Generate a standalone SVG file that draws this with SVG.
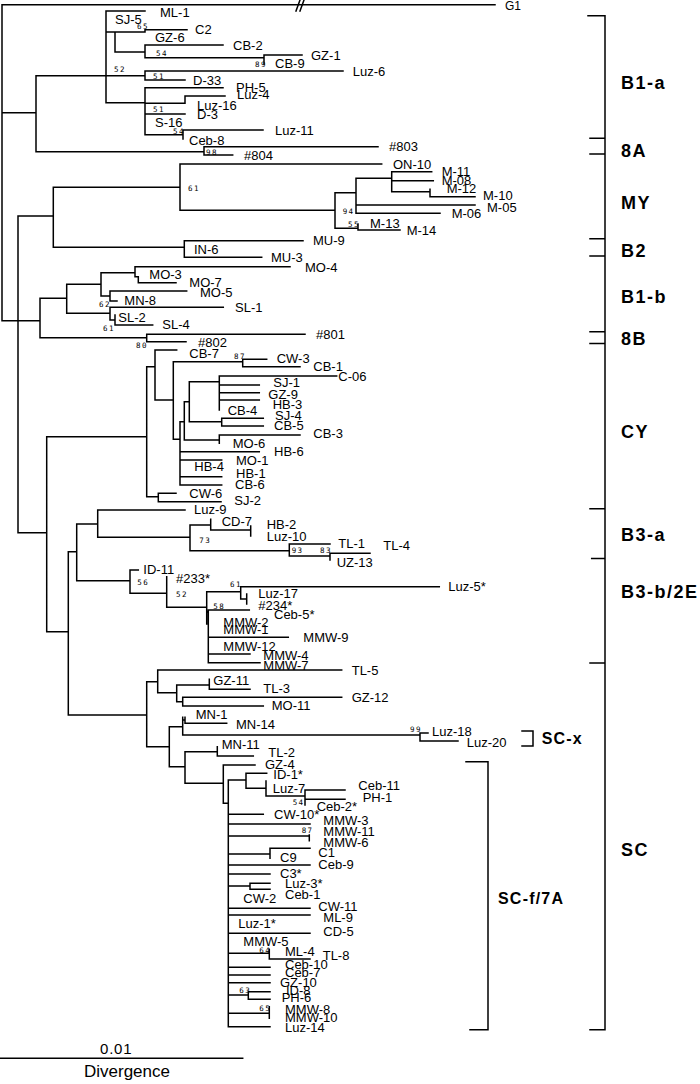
<svg xmlns="http://www.w3.org/2000/svg" width="700" height="1084" viewBox="0 0 700 1084">
<style>
.br{fill:none;stroke:#000;stroke-width:1.5;stroke-linecap:square}
.lf{font-family:"Liberation Sans",Arial,sans-serif;font-size:13px;fill:#000}
.bs{font-family:"DejaVu Sans Mono","Liberation Mono",monospace;font-size:7.5px;letter-spacing:1.4px;fill:#000}
.cl{font-family:"Liberation Sans",Arial,sans-serif;font-size:18px;font-weight:bold;letter-spacing:1.5px;fill:#000}
.cs{font-family:"Liberation Sans",Arial,sans-serif;font-size:16px;font-weight:bold;letter-spacing:1.2px;fill:#000}
</style>
<rect width="700" height="1084" fill="#fff"/>
<g id="connectors">
<path class="br" d="M2 4.7V320.7M2 4.7H495M2 112.7H36M2 320.7H40
M36 75.7V151.7M36 75.7H145M106 11V102.7M106 11H145M106 32H115M115 32V52M115 32H145M145 29.7V32M145 29.7H187
M115 52H145M145 45V57.7M145 45H223M145 57.7H264M264 55V64M264 55H302
M145 71V80M145 71H343M145 80H185
M106 102.7H145M145 87.7V134.7M145 87.7H223M145 103.3H185M185 96V103.3M185 96H225M145 114H185M145 134.7H183M183 130V139M183 130H263
M36 151.7H204M204 146.7V155M204 146.7H378M204 155H232.7
M18 216V532.7M18 216H53.3M53.3 187.3V247.3M53.3 187.3H180M180 164V210.3M180 164H381.7M180 210.3H335M335 192.7V228.3
M335 192.7H356M356 178.3V213.3M356 178.3H391.7M391.7 171.7V191.7M391.7 171.7H431.7M391.7 180.7H433.3M391.7 191.7H430M430 189.3V196.7M430 196.7H475
M356 205H475M356 213.3H440M335 228.3H358M358 224V230M358 230H400
M53.3 247.3H184.3M184.3 240.7V257.3M184.3 240.7H303M184.3 257.3H261.7
M40 298.3V337.7M40 298.3H66.7M66.7 284.3V313.3M66.7 284.3H101M101 272.7V296M101 272.7H135M135 266.7V276.7M135 266.7H290M135 276.7H138.3M138.3 276.7V282.7M138.3 282.7H176
M101 296H110M110 291V301M110 291H186.7M110 301H117
M66.7 313.3H110M110 307.3V320M110 307.3H223.3M110 320H115M115 315V325M115 325H152.7
M40 337.7H146.7M146.7 334.3V341.7M146.7 334.3H305M146.7 341.7H186
M18 532.7H46.7M46.7 436.7V631.7M46.7 436.7H146.7M146.7 366.7V496.7
M146.7 366.7H155M155 350V400M155 350H176.7M155 400H173.3M173.3 361.7V439.3
M173.3 361.7H242.7M242.7 359.3V366.7M242.7 359.3H266.7M242.7 366.7H300
M173.3 439.3H180M180 421.7V485M180 421.7H184.3M184.3 401.7V440M184.3 401.7H189.3M189.3 381.7V421.7
M189.3 381.7H219.3M219.3 376V410M219.3 376H336.7M219.3 385H259.3M219.3 392.7H259.3M219.3 400H259.3
M189.3 421.7H221.7M221.7 418.3V426M221.7 418.3H263.3M221.7 426H263.3
M184.3 440H219.3M219.3 435V443.3M219.3 435H300
M180 451.7H259.3M180 460H221.7M180 476.7H221.7M180 485H221.7
M146.7 496.7H158.3M158.3 493.3V501.7M158.3 493.3H176M158.3 501.7H221
M46.7 631.7H68.3M68.3 551.7V715M68.3 551.7H76.7M76.7 524V580.7
M76.7 524H97.7M97.7 510V537.3M97.7 510H185M97.7 537.3H190M190 525V550.7
M190 525H210.7M210.7 519.3V530M210.7 530H250.7M250.7 526V536
M190 550.7H289.3M289.3 544V556M289.3 544H330M289.3 556H330M330 553.3V560M330 553.3H370
M76.7 580.7H130M130 570V593.3M130 570H138.3M130 593.3H166.7M166.7 576.7V607.3M166.7 607.3H206.7M206.7 591.7V624
M206.7 591.7H240.7M240.7 586.7V599M240.7 586.7H439.3M240.7 599H246.7M246.7 594V604
M206.7 612H208.3M208.3 610V662.7M208.3 610H249.3M208.3 637.3H288.3M208.3 654H250M208.3 662.7H260
M68.3 715H146.7M146.7 681.7V746.7M146.7 681.7H157.7M157.7 670V692.7M157.7 670H341.7M157.7 692.7H176.7M176.7 685V701.7
M176.7 685H209.3M209.3 679.3V689.3M209.3 689.3H250M176.7 701.7H182.7M182.7 697.3V706M182.7 697.3H341.7M182.7 706H263.3
M146.7 746.7H169.3M169.3 726.7V766.7M169.3 726.7H182.7M182.7 717.3V735M182.7 720H185M185 717.3V723.3M185 723.3H226.7
M182.7 735H420M420 733V741M420 733H428M420 741H458
M169.3 766.7H185M185 751.7V783.3M185 751.7H217.3M217.3 746.7V756M217.3 756H253.3
M185 783.3H223.3M223.3 765V803.3M223.3 765H255M223.3 803.3H228.3M228.3 780V1026.7
M228.3 780H246M246 773.3V788.3M246 773.3H266.7M246 788.3H266M266 781V796M266 796H305M305 790V805M305 790H345M305 799.3H345
M228.3 814.3H263.3M228.3 824H310M228.3 836H309.3M309.3 835V840.7
M228.3 854H270M270 848.3V858.3M270 848.3H310M228.3 865H310M228.3 874H270
M228.3 886H250M250 883.3V889.3M250 883.3H270M250 889.3H270
M228.3 908.3H310M228.3 915H310M228.3 933.3H310
M228.3 953.3H269.3M269.3 949.3V959M269.3 959H310
M228.3 967.3H270M228.3 975H270M228.3 982.7H270
M228.3 995H248.3M248.3 991.7V999.3M248.3 991.7H270M248.3 999.3H270
M228.3 1013.3H269.3M269.3 1006.7V1018.3M228.3 1026.7H270"/>
<path class="br" d="M296 11L300 0M300 11L304 0" stroke-linecap="butt"/>
</g>
<g id="brackets">
<path class="br" d="M588 15.7H605V1029.7H590M590 138.3H605M590 154H605M590 238.7H605M590 256H605M590 331.7H605M590 343.4H605M590 508.7H605M591.7 558.5H605M590 663H605"/>
<path class="br" d="M522 731H533V746H522"/>
<path class="br" d="M466 761.7H488V1029.7H470"/>
</g>
<g id="scale">
<path class="br" d="M0 1058.3H242.7" stroke-linecap="butt"/>
<text x="100" y="1054" class="lf" style="font-size:15px;letter-spacing:0.8px">0.01</text>
<text x="84" y="1077" class="lf" style="font-size:17px">Divergence</text>
</g>
<g id="clade-labels">
<text id="lab-B1a" class="cl" x="621" y="89">B1-a</text>
<text id="lab-8A" class="cl" x="621" y="157">8A</text>
<text id="lab-MY" class="cl" x="621" y="209">MY</text>
<text id="lab-B2" class="cl" x="621" y="256.5">B2</text>
<text id="lab-B1b" class="cl" x="621" y="303">B1-b</text>
<text id="lab-8B" class="cl" x="621" y="345">8B</text>
<text id="lab-CY" class="cl" x="621" y="437.5">CY</text>
<text id="lab-B3a" class="cl" x="621" y="541">B3-a</text>
<text id="lab-B3b" class="cl" x="621" y="598">B3-b/2E</text>
<text id="lab-SC" class="cl" x="621" y="856">SC</text>
<text id="lab-SCx" class="cs" x="541.7" y="744">SC-x</text>
<text id="lab-SCf" class="cs" x="498" y="904">SC-f/7A</text>
</g>
<g id="bootstrap" class="bs">
<text x="137" y="28.5">65</text><text x="156" y="56">54</text><text x="255" y="67">89</text><text x="114" y="71.5">52</text>
<text x="153" y="79">51</text><text x="153" y="111.5">51</text><text x="173" y="133.5">54</text><text x="206" y="155">98</text>
<text x="188" y="191">61</text><text x="342.7" y="214">94</text><text x="348" y="226.5">55</text><text x="99" y="306.5">62</text>
<text x="103" y="330.5">61</text><text x="136" y="347.5">80</text><text x="234" y="358.5">87</text><text x="199.3" y="542.5">73</text>
<text x="291.7" y="552.5">93</text><text x="320" y="552.5">83</text><text x="137.3" y="585">56</text><text x="176" y="596.7">52</text>
<text x="230" y="586.7">61</text><text x="213.3" y="609.3">58</text><text x="410" y="731.5">99</text><text x="292.7" y="805">54</text>
<text x="301.7" y="833.3">87</text><text x="259.3" y="952.7">64</text><text x="239.3" y="993.3">63</text><text x="259.3" y="1011">65</text>
</g>
<g id="leaves" class="lf">
<g id="n-G1"><text x="505" y="9.5" style="font-size:12px">G1</text></g>
<g id="clade-B1a-leaves">
<text id="n-ML-1" x="160" y="17">ML-1</text><text id="n-SJ-5" x="115" y="23.5">SJ-5</text><text id="n-C2" x="195" y="34">C2</text>
<text id="n-GZ-6" x="155" y="42">GZ-6</text><text id="n-CB-2" x="233" y="50">CB-2</text><text id="n-GZ-1" x="311" y="60">GZ-1</text>
<text id="n-CB-9" x="275" y="68">CB-9</text><text id="n-Luz-6" x="352.7" y="76">Luz-6</text><text id="n-D-33" x="193" y="85">D-33</text>
<text id="n-PH-5" x="236" y="92">PH-5</text><text id="n-Luz-4" x="237" y="99">Luz-4</text><text id="n-Luz-16" x="197" y="109.5">Luz-16</text>
<text id="n-D-3" x="197" y="119">D-3</text><text id="n-S-16" x="155" y="126.5">S-16</text><text id="n-Luz-11" x="275" y="135">Luz-11</text>
<text id="n-Ceb-8" x="189" y="145">Ceb-8</text>
</g>
<g id="clade-8A-leaves"><text id="n-803" x="389" y="151">#803</text><text id="n-804" x="244" y="160">#804</text></g>
<g id="clade-MY-leaves">
<text id="n-ON-10" x="393" y="169">ON-10</text><text id="n-M-11" x="441.7" y="176">M-11</text><text id="n-M-08" x="441.7" y="185">M-08</text>
<text id="n-M-12" x="446.7" y="193">M-12</text><text id="n-M-10" x="483" y="200">M-10</text><text id="n-M-05" x="487" y="212">M-05</text>
<text id="n-M-06" x="451.7" y="218">M-06</text><text id="n-M-13" x="370" y="228">M-13</text><text id="n-M-14" x="406.7" y="235">M-14</text>
</g>
<g id="clade-B2-leaves"><text id="n-MU-9" x="313" y="245">MU-9</text><text id="n-IN-6" x="194" y="254">IN-6</text><text id="n-MU-3" x="271" y="262">MU-3</text></g>
<g id="clade-B1b-leaves">
<text id="n-MO-4" x="305" y="271.7">MO-4</text><text id="n-MO-3" x="149.3" y="279.3">MO-3</text><text id="n-MO-7" x="189.3" y="286.7">MO-7</text>
<text id="n-MO-5" x="200" y="296.5">MO-5</text><text id="n-MN-8" x="124.3" y="305">MN-8</text><text id="n-SL-1" x="235" y="311.7">SL-1</text>
<text id="n-SL-2" x="118.3" y="321.7">SL-2</text><text id="n-SL-4" x="162.3" y="329">SL-4</text>
</g>
<g id="clade-8B-leaves"><text id="n-801" x="316" y="339">#801</text><text id="n-802" x="198" y="346.5">#802</text></g>
<g id="clade-CY-leaves">
<text id="n-CB-7" x="189.3" y="358.3">CB-7</text><text id="n-CW-3" x="276.7" y="362.7">CW-3</text><text id="n-CB-1" x="313.3" y="371">CB-1</text>
<text id="n-C-06" x="338.3" y="381">C-06</text><text id="n-SJ-1" x="273.3" y="387.3">SJ-1</text><text id="n-GZ-9" x="268.3" y="398.5">GZ-9</text>
<text id="n-HB-3" x="272.7" y="409">HB-3</text><text id="n-CB-4" x="227.7" y="415">CB-4</text><text id="n-SJ-4" x="275" y="420">SJ-4</text>
<text id="n-CB-5" x="274" y="430">CB-5</text><text id="n-CB-3" x="313.3" y="438">CB-3</text><text id="n-MO-6" x="232.7" y="448">MO-6</text>
<text id="n-HB-6" x="274" y="455.5">HB-6</text><text id="n-MO-1" x="236" y="465">MO-1</text><text id="n-HB-4" x="194.3" y="471">HB-4</text>
<text id="n-HB-1" x="236" y="477.5">HB-1</text><text id="n-CB-6" x="235" y="489">CB-6</text><text id="n-CW-6" x="189.3" y="498">CW-6</text>
<text id="n-SJ-2" x="234.3" y="505">SJ-2</text>
</g>
<g id="clade-B3a-leaves">
<text id="n-Luz-9" x="194" y="514.3">Luz-9</text><text id="n-CD-7" x="221.7" y="526">CD-7</text><text id="n-HB-2" x="266.7" y="529.3">HB-2</text>
<text id="n-Luz-10" x="266.7" y="541">Luz-10</text><text id="n-TL-1" x="338.3" y="548">TL-1</text><text id="n-TL-4" x="383.3" y="550">TL-4</text>
<text id="n-UZ-13" x="336.7" y="566.7">UZ-13</text>
</g>
<g id="clade-B3b-leaves">
<text id="n-ID-11" x="143.3" y="574">ID-11</text><text id="n-233" x="176" y="583.3">#233*</text><text id="n-Luz-5" x="448.3" y="590.7">Luz-5*</text>
<text id="n-Luz-17" x="258.3" y="598">Luz-17</text><text id="n-234" x="258.3" y="610">#234*</text><text id="n-Ceb-5" x="274" y="619">Ceb-5*</text>
<text id="n-MMW-2" x="223.3" y="626.5">MMW-2</text><text id="n-MMW-1" x="223.3" y="634">MMW-1</text><text id="n-MMW-9" x="303.3" y="641.5">MMW-9</text>
<text id="n-MMW-12" x="223.3" y="651">MMW-12</text><text id="n-MMW-4" x="263.3" y="660">MMW-4</text><text id="n-MMW-7" x="263.3" y="670">MMW-7</text>
</g>
<g id="clade-SC-leaves">
<text id="n-TL-5" x="351.7" y="675">TL-5</text><text id="n-GZ-11" x="213.3" y="685">GZ-11</text><text id="n-TL-3" x="263.3" y="693.3">TL-3</text>
<text id="n-GZ-12" x="351.7" y="702">GZ-12</text><text id="n-MO-11" x="271.7" y="710">MO-11</text><text id="n-MN-1" x="195.7" y="719.3">MN-1</text>
<text id="n-MN-14" x="236" y="729">MN-14</text><text id="n-Luz-18" x="432" y="736">Luz-18</text><text id="n-Luz-20" x="466.7" y="747">Luz-20</text>
<text id="n-MN-11" x="221.7" y="749">MN-11</text><text id="n-TL-2" x="268.3" y="756.5">TL-2</text><text id="n-GZ-4" x="265" y="768.5">GZ-4</text>
<text id="n-ID-1" x="273.3" y="779.3">ID-1*</text><text id="n-Ceb-11" x="358.3" y="790">Ceb-11</text><text id="n-Luz-7" x="272.7" y="792.7">Luz-7</text>
<text id="n-PH-1" x="362.7" y="802">PH-1</text><text id="n-Ceb-2" x="316.7" y="811">Ceb-2*</text><text id="n-CW-10" x="274" y="819">CW-10*</text>
<text id="n-MMW-3" x="323.3" y="825">MMW-3</text><text id="n-MMW-11" x="323.3" y="836">MMW-11</text><text id="n-MMW-6" x="323.3" y="846.5">MMW-6</text>
<text id="n-C1" x="318.3" y="856.5">C1</text><text id="n-C9" x="280" y="861.7">C9</text><text id="n-Ceb-9" x="318.3" y="869.3">Ceb-9</text>
<text id="n-C3" x="280" y="878.3">C3*</text><text id="n-Luz-3" x="285" y="888.3">Luz-3*</text><text id="n-Ceb-1" x="285" y="899.3">Ceb-1</text>
<text id="n-CW-2" x="243.3" y="903">CW-2</text><text id="n-CW-11" x="318.3" y="911">CW-11</text><text id="n-ML-9" x="323.3" y="921.5">ML-9</text>
<text id="n-Luz-1" x="238.3" y="928.3">Luz-1*</text><text id="n-CD-5" x="323.3" y="936">CD-5</text><text id="n-MMW-5" x="243.3" y="946">MMW-5</text>
<text id="n-ML-4" x="285" y="956">ML-4</text><text id="n-TL-8" x="322.7" y="960">TL-8</text><text id="n-Ceb-10" x="285" y="969.3">Ceb-10</text>
<text id="n-Ceb-7" x="285" y="976.7">Ceb-7</text><text id="n-GZ-10" x="280" y="986.7">GZ-10</text><text id="n-ID-8" x="286" y="995">ID-8</text>
<text id="n-PH-6" x="281.7" y="1002">PH-6</text><text id="n-MMW-8" x="285" y="1014">MMW-8</text><text id="n-MMW-10" x="285" y="1022">MMW-10</text>
<text id="n-Luz-14" x="285" y="1032">Luz-14</text>
</g>
</g>
</svg>
